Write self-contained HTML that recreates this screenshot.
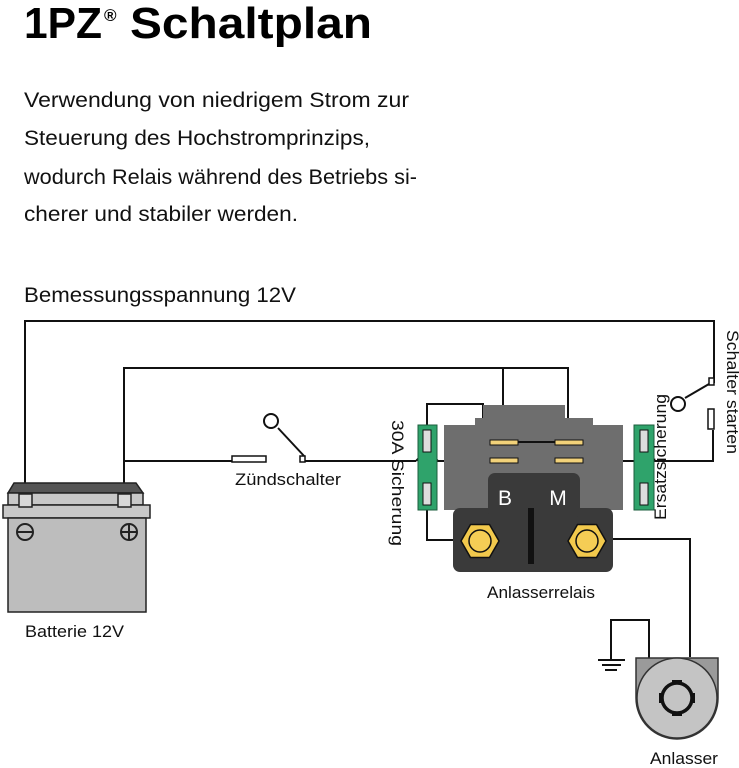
<!DOCTYPE html>
<html><head><meta charset="utf-8"><style>html,body{margin:0;padding:0;background:#fff}svg{display:block}</style></head>
<body>
<svg width="739" height="768" viewBox="0 0 739 768" xmlns="http://www.w3.org/2000/svg" font-family="Liberation Sans, sans-serif">
<text x="24" y="38" font-size="44" font-weight="bold" textLength="78" lengthAdjust="spacingAndGlyphs">1PZ</text>
<text x="104" y="21" font-size="17" font-weight="bold">®</text>
<text x="130" y="38" font-size="44" font-weight="bold" textLength="242" lengthAdjust="spacingAndGlyphs">Schaltplan</text>
<g font-size="21" fill="#111">
<text x="24" y="107" textLength="385" lengthAdjust="spacingAndGlyphs">Verwendung von niedrigem Strom zur</text>
<text x="24" y="145" textLength="346" lengthAdjust="spacingAndGlyphs">Steuerung des Hochstromprinzips,</text>
<text x="24" y="184" textLength="393" lengthAdjust="spacingAndGlyphs">wodurch Relais während des Betriebs si-</text>
<text x="24" y="221" textLength="274" lengthAdjust="spacingAndGlyphs">cherer und stabiler werden.</text>
<text x="24" y="302" textLength="272" lengthAdjust="spacingAndGlyphs">Bemessungsspannung 12V</text>
</g>
<g fill="none" stroke="#111" stroke-width="2">
<polyline points="25,496 25,321 714,321 714,383"/>
<polyline points="124,496 124,368 568,368 568,442"/>
<line x1="503" y1="368" x2="503" y2="442"/>
<polyline points="124,461 232,461"/>
<polyline points="305,461 416,461"/>
<path d="M416,461 Q427,448 438,461 L518,461"/>
<polyline points="427,430 427,404 483,404 483,442"/>
<polyline points="427,505 427,540 463,540"/>
<polyline points="580,461 713,461 713,430"/>
<polyline points="604,539 690,539 690,657"/>
<polyline points="649,658 649,620 611,620 611,660"/>
<line x1="598" y1="660" x2="625" y2="660"/><line x1="602" y1="665" x2="621" y2="665"/><line x1="605" y1="670" x2="617" y2="670"/>
<line x1="709" y1="384" x2="685" y2="398"/>
<circle cx="678" cy="404" r="7"/>
<line x1="305" y1="457" x2="278" y2="428"/>
<circle cx="271" cy="421" r="7"/>
</g>
<g fill="#fff" stroke="#111" stroke-width="1.5">
<rect x="709" y="378" width="5" height="7"/>
<rect x="708" y="409" width="6" height="20"/>
<rect x="232" y="456" width="34" height="6"/>
<rect x="300" y="456" width="5" height="6"/>
</g>
<!-- battery -->
<path d="M14,483 L136,483 L143,493 L8,493 Z" fill="#555" stroke="#222" stroke-width="1.5"/>
<rect x="8" y="493" width="135" height="12" fill="#c8c8c8" stroke="#222" stroke-width="1.5"/>
<rect x="3" y="505" width="147" height="13" fill="#c8c8c8" stroke="#222" stroke-width="1.5"/>
<rect x="8" y="518" width="138" height="94" fill="#bdbdbd" stroke="#222" stroke-width="1.5"/>
<rect x="19" y="494" width="13" height="13" fill="#d8d8d8" stroke="#222" stroke-width="1.5"/>
<rect x="118" y="494" width="13" height="13" fill="#d8d8d8" stroke="#222" stroke-width="1.5"/>
<g fill="none" stroke="#222" stroke-width="2"><circle cx="25" cy="532" r="8"/><line x1="17" y1="532" x2="33" y2="532"/><circle cx="129" cy="532" r="8"/><line x1="121" y1="532" x2="137" y2="532"/><line x1="129" y1="524" x2="129" y2="540"/></g>
<!-- relay -->
<path d="M444,425 L475,425 L475,418 L483,418 L483,405 L565,405 L565,418 L593,418 L593,425 L623,425 L623,510 L444,510 Z" fill="#6e6e6e"/>
<rect x="453" y="508" width="160" height="64" rx="7" fill="#3a3a3a"/>
<rect x="488" y="473" width="92" height="45" rx="7" fill="#3a3a3a"/>
<rect x="528" y="508" width="6" height="56" fill="#111"/>
<g fill="#f2d27a" stroke="#111" stroke-width="1"><rect x="490" y="440" width="28" height="5"/><rect x="555" y="440" width="28" height="5"/><rect x="490" y="458" width="28" height="5"/><rect x="555" y="458" width="28" height="5"/></g>
<line x1="518" y1="442" x2="555" y2="442" stroke="#111" stroke-width="2"/>
<text x="505" y="505" font-size="21" fill="#fff" text-anchor="middle">B</text>
<text x="558" y="505" font-size="21" fill="#fff" text-anchor="middle">M</text>
<g stroke="#111" stroke-width="1.5" fill="#f2c94c">
<polygon points="499,541 489.5,557.5 470.5,557.5 461,541 470.5,524.5 489.5,524.5"/>
<circle cx="480" cy="541" r="11" fill="#f5cd55"/>
<polygon points="606,541 596.5,557.5 577.5,557.5 568,541 577.5,524.5 596.5,524.5"/>
<circle cx="587" cy="541" r="11" fill="#f5cd55"/>
</g>
<!-- fuses -->
<rect x="418" y="425" width="19" height="85" fill="#2fa36b" stroke="#1b5e3c"/>
<rect x="634" y="425" width="20" height="85" fill="#2fa36b" stroke="#1b5e3c"/>
<g fill="#ddd" stroke="#111"><rect x="423" y="430" width="8" height="22"/><rect x="423" y="483" width="8" height="22"/><rect x="640" y="430" width="8" height="22"/><rect x="640" y="483" width="8" height="22"/></g>
<!-- starter -->
<path d="M636,658 L718,658 L718,698 A41,41 0 0 1 636,698 Z" fill="#9a9a9a" stroke="#333" stroke-width="1.5"/>
<circle cx="677" cy="698" r="40" fill="#c4c4c4" stroke="#333" stroke-width="1.5"/>
<circle cx="677" cy="698" r="15" fill="#c4c4c4" stroke="#111" stroke-width="3.5"/>
<g fill="#111"><rect x="672" y="680" width="10" height="4"/><rect x="672" y="712" width="10" height="4"/><rect x="659" y="693" width="4" height="10"/><rect x="691" y="693" width="4" height="10"/></g>
<g font-size="17" fill="#111">
<text x="235" y="485" textLength="106" lengthAdjust="spacingAndGlyphs">Zündschalter</text>
<text x="25" y="637" textLength="99" lengthAdjust="spacingAndGlyphs">Batterie 12V</text>
<text x="487" y="598" textLength="108" lengthAdjust="spacingAndGlyphs">Anlasserrelais</text>
<text x="650" y="764" textLength="68" lengthAdjust="spacingAndGlyphs">Anlasser</text>
<text transform="translate(392,420) rotate(90)" textLength="126" lengthAdjust="spacingAndGlyphs">30A Sicherung</text>
<text transform="translate(666,520) rotate(-90)" textLength="126" lengthAdjust="spacingAndGlyphs">Ersatzsicherung</text>
<text transform="translate(727,330) rotate(90)" textLength="124" lengthAdjust="spacingAndGlyphs">Schalter starten</text>
</g>
</svg>
</body></html>
